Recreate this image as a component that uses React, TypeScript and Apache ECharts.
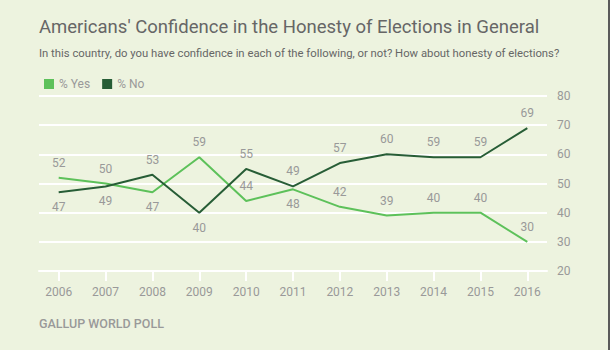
import React, { useEffect, useRef } from "react";
import * as echarts from "echarts";

const years = [2006, 2007, 2008, 2009, 2010, 2011, 2012, 2013, 2014, 2015, 2016];
const yesValues = [52, 50, 47, 59, 44, 48, 42, 39, 40, 40, 30];
const noValues = [47, 49, 53, 40, 55, 49, 57, 60, 59, 59, 69];
const yesLabelPos = ["top", "top", "bottom", "top", "top", "bottom", "top", "top", "top", "top", "top"];
const noLabelPos = ["bottom", "bottom", "top", "bottom", "top", "top", "top", "top", "top", "top", "top"];
const yTicks = [20, 30, 40, 50, 60, 70, 80];

const BG = "#EDF3DF";
const FONT = "Roboto, 'Noto Sans', sans-serif";

export default function App() {
  const ref = useRef<HTMLDivElement>(null);
  useEffect(() => {
    document.body.style.margin = "0";
    const chart = echarts.init(ref.current!, undefined, { renderer: "svg" });
    const mk = (vals: number[], pos: string[]) =>
      vals.map((v, i) => ({
        value: [years[i], v],
        label: { position: pos[i] },
      }));
    const labelCfg = {
      show: true,
      color: "#999",
      fontSize: 12,
      distance: 9,
      fontFamily: FONT,
      formatter: (p: any) => String(p.value[1]),
    };
    chart.setOption({
      animation: false,
      backgroundColor: BG,
      textStyle: { fontFamily: FONT },
      grid: { left: 39, right: 63, top: 96, bottom: 79 },
      legend: {
        left: 39,
        top: 73,
        icon: "rect",
        itemWidth: 10,
        itemHeight: 10,
        itemGap: 12,
        textStyle: { color: "#999", fontSize: 12, fontFamily: FONT },
        data: ["% Yes", "% No"],
      },
      xAxis: {
        type: "value",
        min: 2005.58,
        max: 2016.42,
        splitLine: { show: false },
        axisLine: { show: true, lineStyle: { color: "#fff", width: 2 } },
        axisTick: {
          show: true,
          customValues: years,
          length: 10,
          lineStyle: { color: "#fff", width: 2 },
        },
        axisLabel: {
          customValues: years,
          color: "#999",
          fontSize: 12,
          margin: 15,
          formatter: (v: number) => String(v),
        },
      },
      yAxis: {
        type: "value",
        position: "right",
        min: yTicks[0],
        max: yTicks[yTicks.length - 1],
        interval: 10,
        axisLine: { show: false },
        axisTick: { show: false },
        axisLabel: { color: "#999", fontSize: 12, margin: 10 },
        splitLine: { lineStyle: { color: "#fff", width: 2 } },
      },
      series: [
        {
          name: "% Yes",
          type: "line",
          data: mk(yesValues, yesLabelPos),
          symbol: "circle",
          symbolSize: 0,
          showSymbol: true,
          color: "#5DC15A",
          lineStyle: { width: 2 },
          label: labelCfg,
        },
        {
          name: "% No",
          type: "line",
          data: mk(noValues, noLabelPos),
          symbol: "circle",
          symbolSize: 0,
          showSymbol: true,
          color: "#275D36",
          lineStyle: { width: 2 },
          label: labelCfg,
        },
      ],
      graphic: [
        {
          type: "text",
          left: 39,
          top: 17,
          style: {
            text: "Americans' Confidence in the Honesty of Elections in General",
            fill: "#666",
            fontSize: 18.5,
            fontFamily: FONT,
          },
        },
        {
          type: "text",
          left: 39,
          top: 48,
          style: {
            text: "In this country, do you have confidence in each of the following, or not? How about honesty of elections?",
            fill: "#666",
            fontSize: 11.3,
            fontFamily: FONT,
          },
        },
        {
          type: "text",
          left: 39,
          top: 317,
          style: {
            text: "GALLUP WORLD POLL",
            fill: "#999",
            fontSize: 12.5,
            fontWeight: 500,
            fontFamily: FONT,
          },
        },
        {
          type: "rect",
          right: 0,
          top: 0,
          shape: { width: 2, height: 350 },
          style: { fill: "#5a5a5a" },
        },
      ],
    });
    return () => chart.dispose();
  }, []);
  return <div ref={ref} style={{ width: 610, height: 350 }} />;
}
